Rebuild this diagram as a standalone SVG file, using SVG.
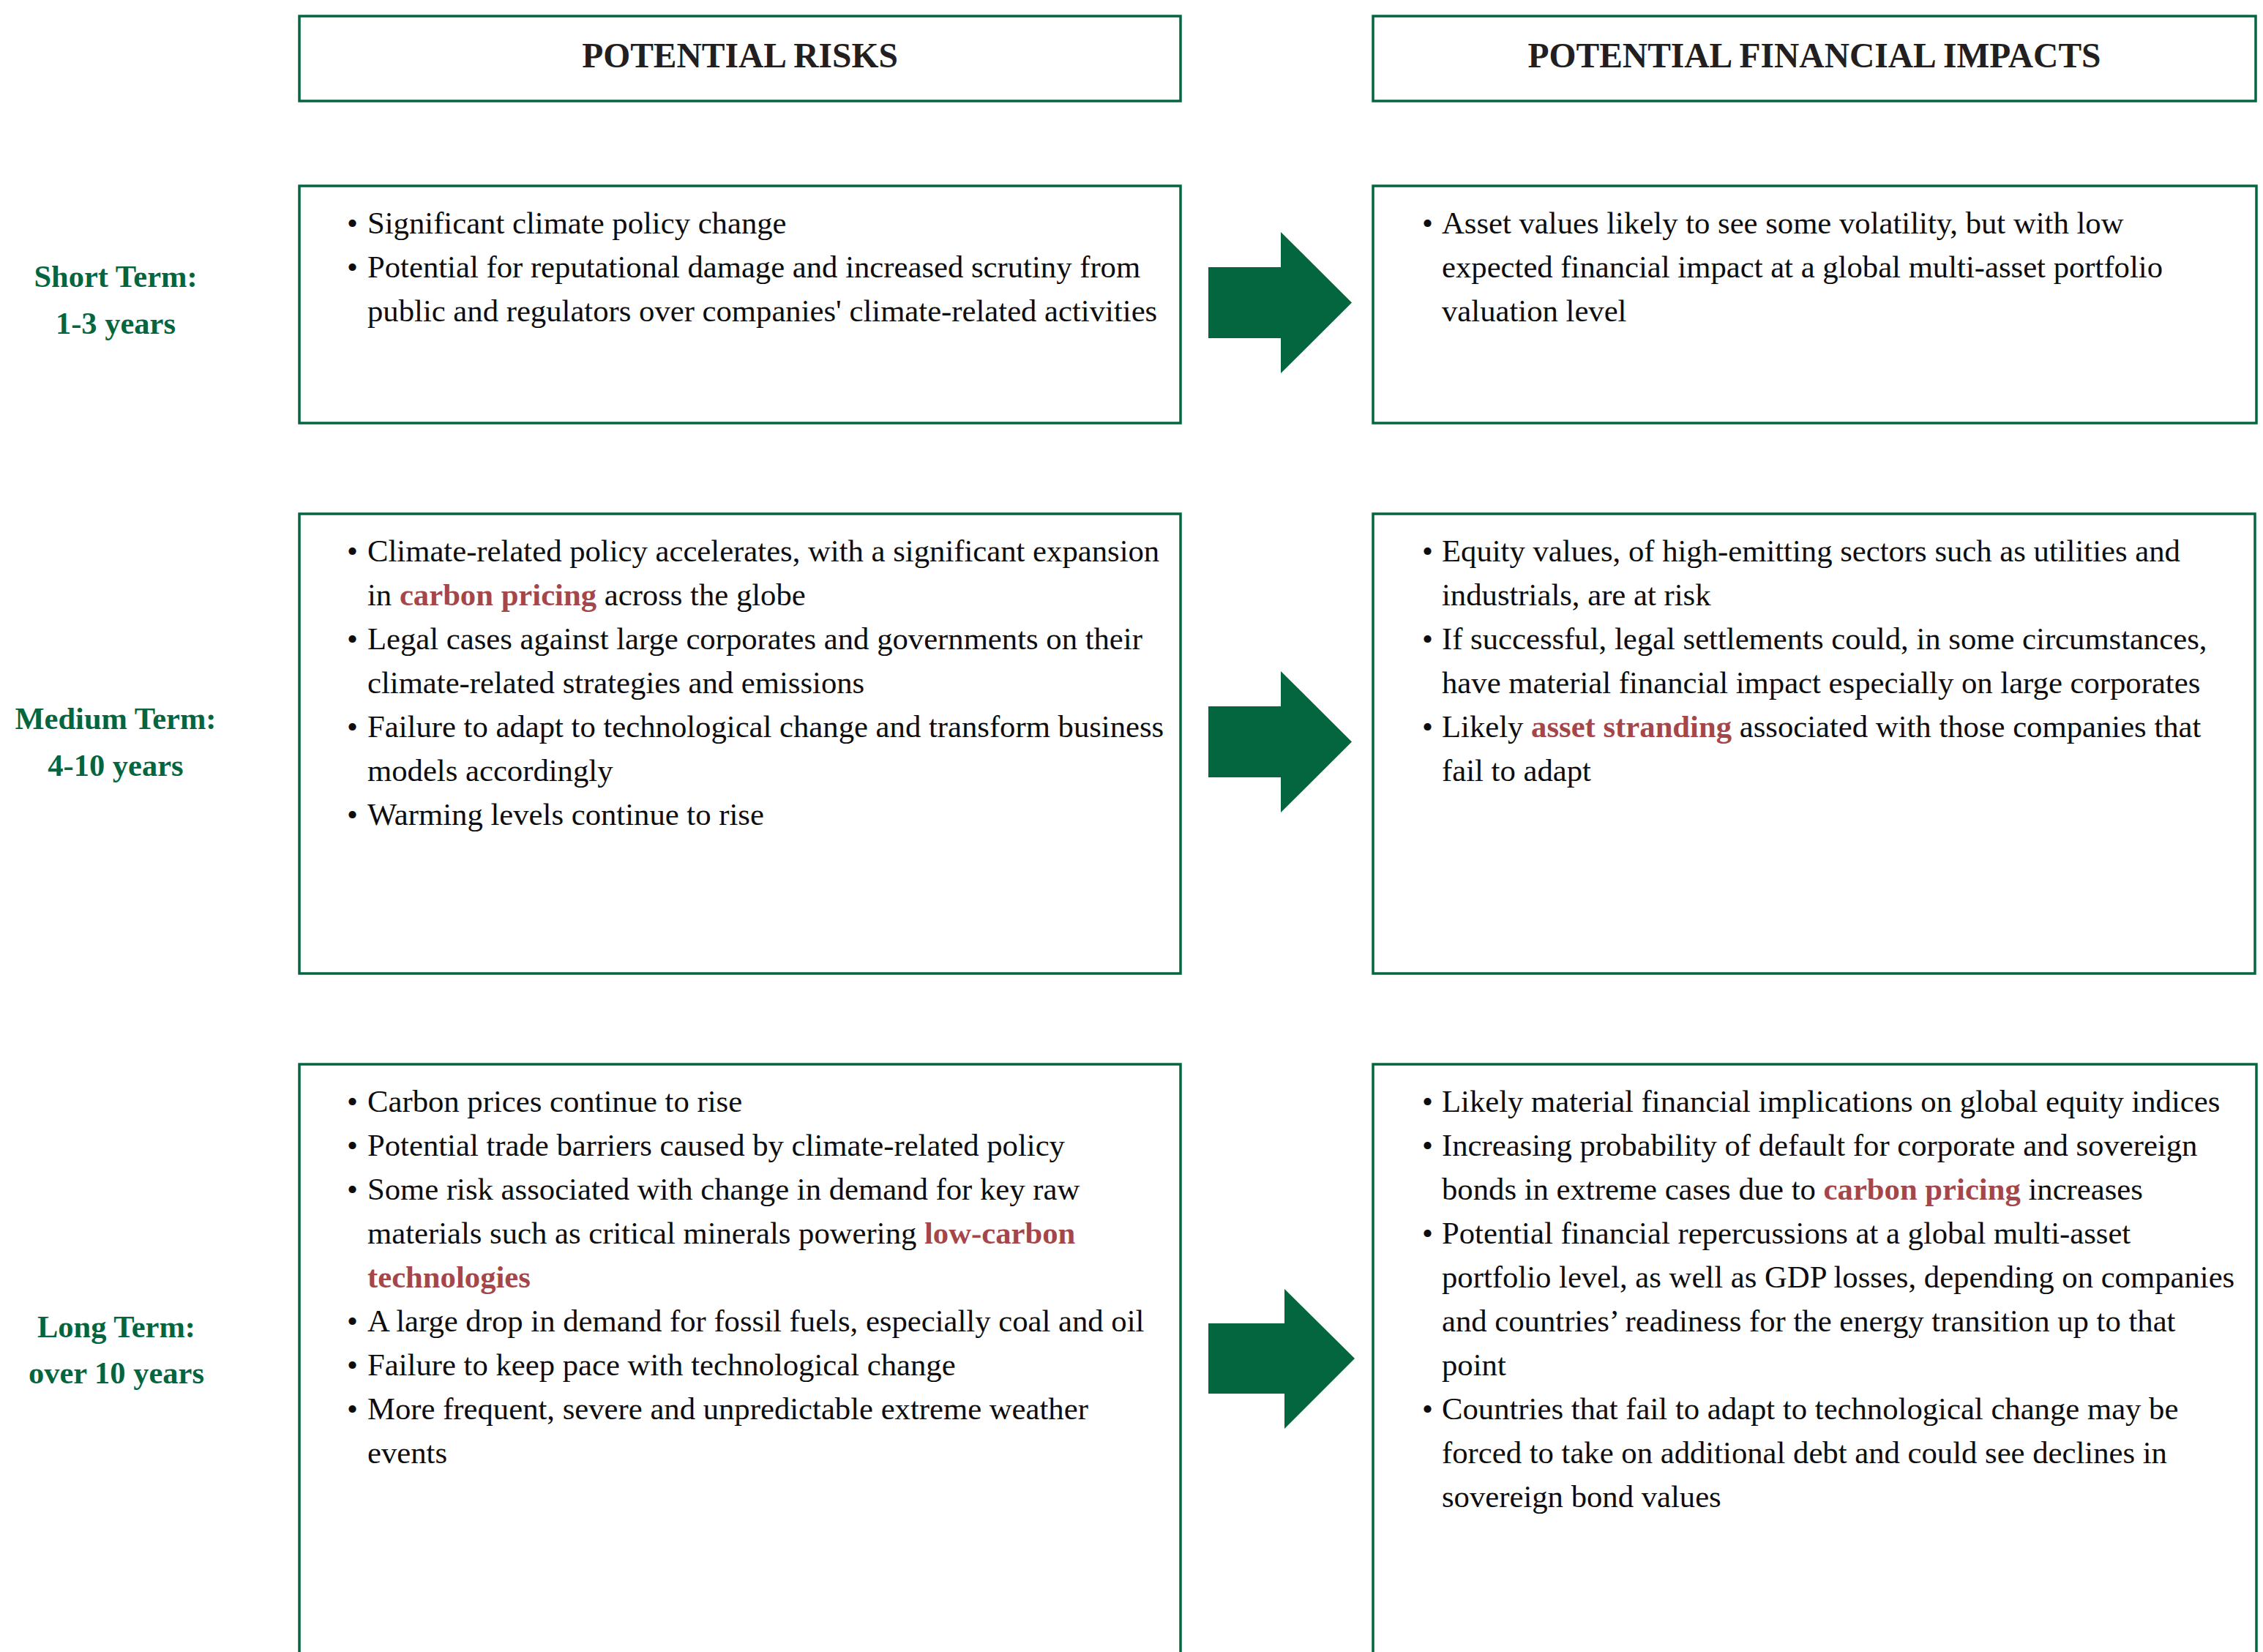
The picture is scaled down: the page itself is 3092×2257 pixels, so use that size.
<svg xmlns="http://www.w3.org/2000/svg" width="3092" height="2257" viewBox="0 0 3092 2257">
<style>
.box{fill:#fff;stroke:#04663F;stroke-width:3.5}
.hdr{font-family:"Liberation Serif","Times New Roman",serif;font-weight:bold;font-size:47.5px;fill:#231F20;text-anchor:middle}
.lbl{font-family:"Liberation Serif","Times New Roman",serif;font-weight:bold;font-size:42.5px;fill:#04663F;text-anchor:middle}
.txt{font-family:"Liberation Serif","Times New Roman",serif;font-size:42.7px;fill:#0d0d0d}
.hl{fill:#A5474A;font-weight:bold}
.arrow{fill:#04663F}
</style>
<rect width="3092" height="2257" fill="#fff"/>

<g id="header-risks">
<rect class="box" x="409" y="22" width="1204" height="116"/>
<text class="hdr" x="1011" y="92">POTENTIAL RISKS</text>
</g>
<g id="header-impacts">
<rect class="box" x="1876" y="22" width="1206" height="116"/>
<text class="hdr" x="2479" y="92">POTENTIAL FINANCIAL IMPACTS</text>
</g>

<g id="label-short">
<text class="lbl" x="158" y="392">Short Term:</text>
<text class="lbl" x="158" y="456">1-3 years</text>
</g>
<g id="label-medium">
<text class="lbl" x="158" y="996">Medium Term:</text>
<text class="lbl" x="158" y="1060">4-10 years</text>
</g>
<g id="label-long">
<text class="lbl" x="159" y="1827">Long Term:</text>
<text class="lbl" x="159" y="1890">over 10 years</text>
</g>

<g id="risks-short">
<rect class="box" x="409" y="254" width="1204" height="324"/>
<text class="txt" x="474" y="319">•</text>
<text class="txt" x="502" y="319">Significant climate policy change</text>
<text class="txt" x="474" y="379">•</text>
<text class="txt" x="502" y="379">Potential for reputational damage and increased scrutiny from</text>
<text class="txt" x="502" y="439">public and regulators over companies' climate-related activities</text>
</g>

<g id="impacts-short">
<rect class="box" x="1876" y="254" width="1207" height="324"/>
<text class="txt" x="1943" y="319">•</text>
<text class="txt" x="1970" y="319">Asset values likely to see some volatility, but with low</text>
<text class="txt" x="1970" y="379">expected financial impact at a global multi-asset portfolio</text>
<text class="txt" x="1970" y="439">valuation level</text>
</g>

<g id="risks-medium">
<rect class="box" x="409" y="702" width="1204" height="628"/>
<text class="txt" x="474" y="767">•</text>
<text class="txt" x="502" y="767">Climate-related policy accelerates, with a significant expansion</text>
<text class="txt" x="502" y="827">in <tspan class="hl">carbon pricing</tspan> across the globe</text>
<text class="txt" x="474" y="887">•</text>
<text class="txt" x="502" y="887">Legal cases against large corporates and governments on their</text>
<text class="txt" x="502" y="947">climate-related strategies and emissions</text>
<text class="txt" x="474" y="1007">•</text>
<text class="txt" x="502" y="1007">Failure to adapt to technological change and transform business</text>
<text class="txt" x="502" y="1067">models accordingly</text>
<text class="txt" x="474" y="1127">•</text>
<text class="txt" x="502" y="1127">Warming levels continue to rise</text>
</g>

<g id="impacts-medium">
<rect class="box" x="1876" y="702" width="1205" height="628"/>
<text class="txt" x="1943" y="767">•</text>
<text class="txt" x="1970" y="767">Equity values, of high-emitting sectors such as utilities and</text>
<text class="txt" x="1970" y="827">industrials, are at risk</text>
<text class="txt" x="1943" y="887">•</text>
<text class="txt" x="1970" y="887">If successful, legal settlements could, in some circumstances,</text>
<text class="txt" x="1970" y="947">have material financial impact especially on large corporates</text>
<text class="txt" x="1943" y="1007">•</text>
<text class="txt" x="1970" y="1007">Likely <tspan class="hl">asset stranding</tspan> associated with those companies that</text>
<text class="txt" x="1970" y="1067">fail to adapt</text>
</g>

<g id="risks-long">
<rect class="box" x="409" y="1454" width="1204" height="900"/>
<text class="txt" x="474" y="1519">•</text>
<text class="txt" x="502" y="1519">Carbon prices continue to rise</text>
<text class="txt" x="474" y="1579">•</text>
<text class="txt" x="502" y="1579">Potential trade barriers caused by climate-related policy</text>
<text class="txt" x="474" y="1639">•</text>
<text class="txt" x="502" y="1639">Some risk associated with change in demand for key raw</text>
<text class="txt" x="502" y="1699">materials such as critical minerals powering <tspan class="hl">low-carbon</tspan></text>
<text class="txt hl" x="502" y="1759">technologies</text>
<text class="txt" x="474" y="1819">•</text>
<text class="txt" x="502" y="1819">A large drop in demand for fossil fuels, especially coal and oil</text>
<text class="txt" x="474" y="1879">•</text>
<text class="txt" x="502" y="1879">Failure to keep pace with technological change</text>
<text class="txt" x="474" y="1939">•</text>
<text class="txt" x="502" y="1939">More frequent, severe and unpredictable extreme weather</text>
<text class="txt" x="502" y="1999">events</text>
</g>

<g id="impacts-long">
<rect class="box" x="1876" y="1454" width="1207" height="900"/>
<text class="txt" x="1943" y="1519">•</text>
<text class="txt" x="1970" y="1519">Likely material financial implications on global equity indices</text>
<text class="txt" x="1943" y="1579">•</text>
<text class="txt" x="1970" y="1579">Increasing probability of default for corporate and sovereign</text>
<text class="txt" x="1970" y="1639">bonds in extreme cases due to <tspan class="hl">carbon pricing</tspan> increases</text>
<text class="txt" x="1943" y="1699">•</text>
<text class="txt" x="1970" y="1699">Potential financial repercussions at a global multi-asset</text>
<text class="txt" x="1970" y="1759">portfolio level, as well as GDP losses, depending on companies</text>
<text class="txt" x="1970" y="1819">and countries’ readiness for the energy transition up to that</text>
<text class="txt" x="1970" y="1879">point</text>
<text class="txt" x="1943" y="1939">•</text>
<text class="txt" x="1970" y="1939">Countries that fail to adapt to technological change may be</text>
<text class="txt" x="1970" y="1999">forced to take on additional debt and could see declines in</text>
<text class="txt" x="1970" y="2059">sovereign bond values</text>
</g>

<g id="connectors">
<polygon class="arrow" points="1651,365 1750,365 1750,317 1847,413.5 1750,510 1750,462 1651,462"/>
<polygon class="arrow" points="1651,965 1750,965 1750,917 1847,1013.5 1750,1110 1750,1062 1651,1062"/>
<polygon class="arrow" points="1651,1808 1755,1808 1755,1761 1851,1856 1755,1952 1755,1904 1651,1904"/>
</g>
</svg>
